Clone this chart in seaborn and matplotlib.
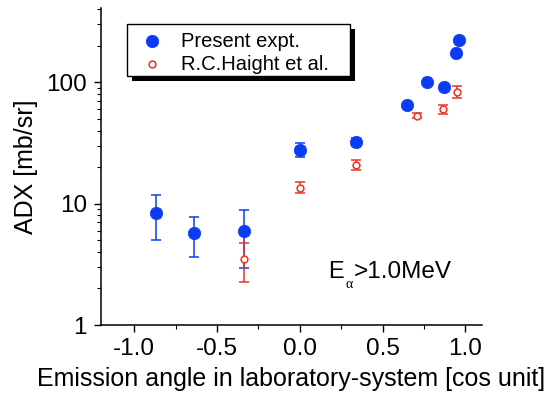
import matplotlib
matplotlib.use("Agg")
import matplotlib.pyplot as plt
import seaborn as sns
import numpy as np
import pandas as pd
from matplotlib.patches import Rectangle
from matplotlib.ticker import LogLocator, NullFormatter, FixedLocator, MultipleLocator

# Present experiment
present_x = [-0.866, -0.640, -0.338, 0.0, 0.338, 0.645, 0.769, 0.868, 0.942, 0.964]
present_y = [8.4, 5.7, 5.9, 27.9, 32.5, 65.0, 100.0, 92.0, 175.0, 225.0]
present_lo = [5.0, 3.65, 2.95, 24.2, 30.0, 65.0, 100.0, 92.0, 175.0, 225.0]
present_hi = [11.9, 7.8, 8.9, 31.8, 35.0, 65.0, 100.0, 92.0, 175.0, 225.0]

# R.C.Haight et al.
haight_x = [-0.338, 0.0, 0.338, 0.709, 0.866, 0.950]
haight_y = [3.5, 13.5, 20.8, 53.0, 60.0, 83.0]
haight_lo = [2.27, 12.2, 18.9, 50.5, 55.0, 74.0]
haight_hi = [4.76, 15.0, 22.8, 55.5, 65.0, 93.0]

xticks = [-1.0, -0.5, 0.0, 0.5, 1.0]
xticklabels = ["-1.0", "-0.5", "0.0", "0.5", "1.0"]
yticks = [1, 10, 100]
yticklabels = ["1", "10", "100"]

sns.set_theme(style="ticks")
plt.rcParams['font.family'] = ['Liberation Sans', 'DejaVu Sans']
plt.rcParams['text.color'] = 'black'
plt.rcParams['axes.labelcolor'] = 'black'
plt.rcParams['xtick.color'] = 'black'
plt.rcParams['ytick.color'] = 'black'

W, H = 553, 408
fig = plt.figure(figsize=(W / 100, H / 100), dpi=100)
ax = fig.add_axes([101 / W, (H - 325) / H, (482 - 101) / W, (325 - 8) / H])

blue = "#0a3cf5"
red = "#f03020"

dfp = pd.DataFrame({"x": present_x, "y": present_y})
dfh = pd.DataFrame({"x": haight_x, "y": haight_y})

py = np.array(present_y)
ax.errorbar(present_x, present_y,
            yerr=[py - np.array(present_lo), np.array(present_hi) - py],
            fmt="none", ecolor=blue, elinewidth=1.1, capsize=3.5, capthick=1.1, zorder=2)
hy = np.array(haight_y)
ax.errorbar(haight_x, haight_y,
            yerr=[hy - np.array(haight_lo), np.array(haight_hi) - hy],
            fmt="none", ecolor=red, elinewidth=1.1, capsize=3.5, capthick=1.1, zorder=2)

sns.scatterplot(data=dfp, x="x", y="y", ax=ax, s=80, color=blue, edgecolor=blue,
                linewidth=0.5, marker="o", label="Present expt.", zorder=3)
sns.scatterplot(data=dfh, x="x", y="y", ax=ax, s=24, facecolor="white", edgecolor=red,
                linewidth=1.1, marker="o", label="R.C.Haight et al.", zorder=4)

ax.set_yscale("log")
ax.set_xlim(-1.2, 1.1)
ax.set_ylim(1, 410)

ax.xaxis.set_major_locator(FixedLocator(xticks))
ax.set_xticklabels(xticklabels)
ax.xaxis.set_minor_locator(MultipleLocator(0.25))
ax.yaxis.set_major_locator(FixedLocator(yticks))
ax.set_yticklabels(yticklabels)
ax.yaxis.set_minor_locator(LogLocator(base=10, subs=np.arange(2, 10)))
ax.yaxis.set_minor_formatter(NullFormatter())

ax.tick_params(axis="both", which="major", direction="out", length=5, width=1,
               labelsize=17.5, colors="black")
ax.tick_params(axis="both", which="minor", direction="out", length=3, width=0.8,
               colors="black")
ax.tick_params(axis="x", pad=4.5)
ax.tick_params(axis="y", pad=5)

for s in ["top", "right"]:
    ax.spines[s].set_visible(False)
for s in ["left", "bottom"]:
    ax.spines[s].set_linewidth(1.1)
    ax.spines[s].set_color("black")

ax.set_xlabel("Emission angle in laboratory-system [cos unit]", fontsize=18, labelpad=5,
              color="black")
ax.set_ylabel("ADX [mb/sr]", fontsize=18, labelpad=6, color="black")

# E_alpha > 1.0 MeV annotation
base_y = (325 - 278) / 317
tE = ax.text((328 - 101) / 381, base_y, "E", transform=ax.transAxes, fontsize=17,
             ha="left", va="baseline", color="black")
tA = ax.annotate("α", xy=(1, base_y), xycoords=(tE, "axes fraction"),
                 xytext=(1, -7), textcoords="offset points", fontsize=10,
                 family=["Liberation Serif", "DejaVu Serif"], ha="left", va="baseline",
                 color="black")
ax.annotate(">1.0MeV", xy=(1, base_y), xycoords=(tA, "axes fraction"),
            xytext=(0.8, 0), textcoords="offset points", fontsize=17.5,
            ha="left", va="baseline", color="black")

# Legend with box and solid black drop shadow
bx0, by0, bx1, by1 = 127, 24, 350, 76
shadow = Rectangle(((bx0 + 5) / W, (H - by1 - 5) / H), (bx1 - bx0) / W, (by1 - by0) / H,
                   transform=fig.transFigure, facecolor="black", edgecolor="none",
                   zorder=8, clip_on=False)
box = Rectangle((bx0 / W, (H - by1) / H), (bx1 - bx0) / W, (by1 - by0) / H,
                transform=fig.transFigure, facecolor="white", edgecolor="black",
                linewidth=1.0, zorder=9, clip_on=False)
ax.add_patch(shadow)
ax.add_patch(box)

leg = ax.legend(loc="upper left", bbox_to_anchor=(128 / W, (H - 25.5) / H),
                bbox_transform=fig.transFigure, frameon=False,
                fontsize=14.5, handletextpad=0.55, borderpad=0.3, labelspacing=0.2,
                handlelength=1.8, borderaxespad=0)
leg.set_zorder(10)
for t in leg.get_texts():
    t.set_color("black")

fig.savefig("out.png", dpi=100)
